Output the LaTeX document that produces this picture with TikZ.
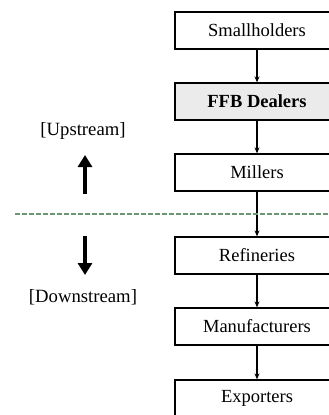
\documentclass[tikz,border=0pt]{standalone}
\usepackage{fontspec}
\setmainfont{Liberation Serif}
\usetikzlibrary{arrows.meta}

\begin{document}
\begin{tikzpicture}[x=1pt, y=-1pt,
    actor/.style={draw, line width=1.3pt, minimum width=164pt, minimum height=37pt,
        font=\fontsize{18.5}{22}\selectfont, inner sep=0pt},
    flow/.style={line width=1.2pt, -{Stealth[length=6pt,width=5pt]}},
    bigarrow/.style={line width=4pt, -{Triangle[length=12pt,width=14pt]}},
    side/.style={font=\fontsize{18.7}{22}\selectfont}]
    \useasboundingbox (0,0) rectangle (329,415);
    % chain of actors
    \node[actor] (small) at (257,30.5) {Smallholders};
    \node[actor, fill=black!8, font=\fontsize{18.5}{22}\selectfont\bfseries] (ffb) at (257,101.5) {FFB Dealers};
    \node[actor] (mill) at (257,172.5) {Millers};
    \node[actor] (refi) at (257,255.5) {Refineries};
    \node[actor] (manu) at (257,326.5) {Manufacturers};
    \node[actor] (expo) at (257,398.5) {Exporters};
    \foreach \a/\b in {small/ffb, ffb/mill, mill/refi, refi/manu, manu/expo}
        \draw[flow] (\a) -- (\b);
    % split between up and down stream
    \coordinate (splitL) at (15,214);
    \coordinate (splitR) at (329,214);
    \draw[color={rgb,255:red,105;green,150;blue,115}, line width=1.1pt, dash pattern=on 4.5pt off 2.5pt] (splitL) -- (splitR);
    \node[side] (up) at (83,131) {[Upstream]};
    \coordinate (upA) at (85,194);
    \coordinate (upB) at (85,155);
    \draw[bigarrow] (upA) -- (upB);
    \coordinate (dnA) at (85,236);
    \coordinate (dnB) at (85,275);
    \draw[bigarrow] (dnA) -- (dnB);
    \node[side] (down) at (83,297) {[Downstream]};
\end{tikzpicture}
\end{document}
